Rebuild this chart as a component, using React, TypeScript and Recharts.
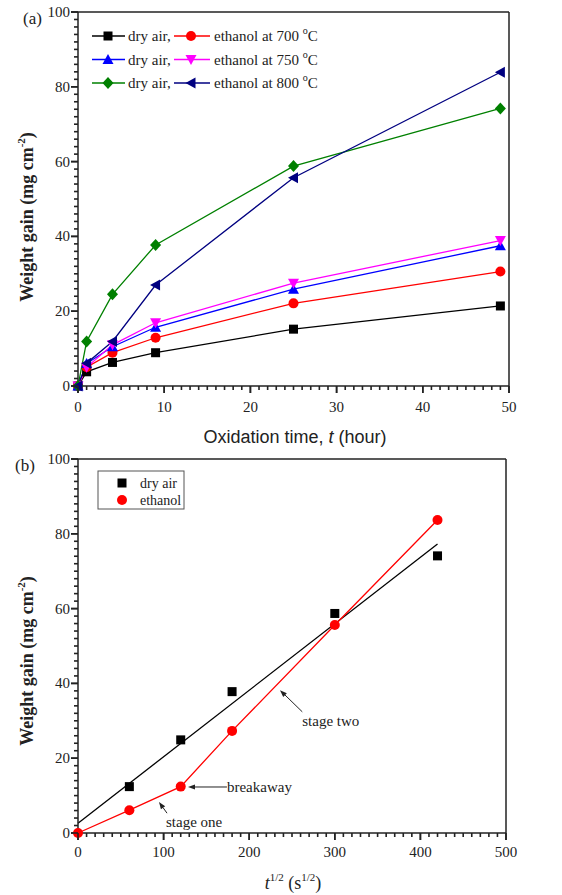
import React from "react";
import {
  LineChart,
  ComposedChart,
  Line,
  Scatter,
  XAxis,
  YAxis,
  ReferenceLine,
} from "recharts";

// ---- panel (a): weight gain vs oxidation time ----
const hours = [0, 1, 4, 9, 25, 49];
const dryAir700 = [0, 3.8, 6.3, 8.9, 15.2, 21.4];
const ethanol700 = [0, 5, 8.9, 12.9, 22.1, 30.6];
const dryAir750 = [0, 6, 10.5, 15.7, 25.9, 37.5];
const ethanol750 = [0, 5, 11, 16.9, 27.5, 38.9];
const dryAir800 = [0, 11.9, 24.5, 37.7, 58.8, 74.2];
const ethanol800 = [0, 6.1, 11.9, 27, 55.7, 83.9];

const xTicksA = [0, 10, 20, 30, 40, 50];
const yTicks = [0, 20, 40, 60, 80, 100];

// ---- panel (b): weight gain vs sqrt(t) at 800 C ----
const sqrtT = [60, 120, 180, 300, 420];
const dryAirB = [12.4, 24.9, 37.8, 58.7, 74.1];
const sqrtTEth = [0, 60, 120, 180, 300, 420];
const ethanolB = [0, 6.1, 12.4, 27.3, 55.6, 83.7];
const dryFitX = [0, 420];
const dryFitY = [2.6, 77.3];
const xTicksB = [0, 100, 200, 300, 400, 500];

// annotations: [tailX, tailY, tipX, tipY]
const notes = [
  { text: "stage two", seg: [262, 32.4, 236, 38.2], dx: 0, dy: 14 },
  { text: "breakaway", seg: [174, 12.3, 128.5, 12.3], dx: 0, dy: 5 },
  { text: "stage one", seg: [104, 5.3, 94.6, 8.3], dx: -1, dy: 14 },
];

const series = [
  { key: "dry700", values: dryAir700, color: "#000000", shape: "square" },
  { key: "eth700", values: ethanol700, color: "#ff0000", shape: "circle" },
  { key: "dry750", values: dryAir750, color: "#0000ff", shape: "up" },
  { key: "eth750", values: ethanol750, color: "#ff00ff", shape: "down" },
  { key: "dry800", values: dryAir800, color: "#008000", shape: "diamond" },
  { key: "eth800", values: ethanol800, color: "#000080", shape: "left" },
];

const rowsA = hours.map((t, i) => {
  const row: any = { t };
  series.forEach((s) => (row[s.key] = s.values[i]));
  return row;
});
const dryRowsB = sqrtT.map((x, i) => ({ x, y: dryAirB[i] }));
const ethRowsB = sqrtTEth.map((x, i) => ({ x, y: ethanolB[i] }));
const fitRowsB = dryFitX.map((x, i) => ({ x, y: dryFitY[i] }));

const range = (step: number, max: number) =>
  Array.from({ length: Math.round(max / step) + 1 }, (_, i) => i * step);

const SERIF = "Liberation Serif, Times New Roman, serif";
const SANS = "Liberation Sans, Arial, sans-serif";
const AXIS = "#222";

function Marker({ shape, cx, cy, fill }: any) {
  if (cx == null || cy == null) return null;
  const s = 4.5;
  switch (shape) {
    case "square":
      return <rect x={cx - s} y={cy - s} width={2 * s} height={2 * s} fill={fill} />;
    case "circle":
      return <circle cx={cx} cy={cy} r={s + 0.5} fill={fill} />;
    case "up":
      return <polygon points={`${cx},${cy - s - 1} ${cx - s - 1},${cy + s} ${cx + s + 1},${cy + s}`} fill={fill} />;
    case "down":
      return <polygon points={`${cx},${cy + s + 1} ${cx - s - 1},${cy - s} ${cx + s + 1},${cy - s}`} fill={fill} />;
    case "diamond":
      return <polygon points={`${cx},${cy - s - 1.5} ${cx + s + 1},${cy} ${cx},${cy + s + 1.5} ${cx - s - 1},${cy}`} fill={fill} />;
    case "left":
      return <polygon points={`${cx - s - 1},${cy} ${cx + s},${cy - s - 1} ${cx + s},${cy + s + 1}`} fill={fill} />;
    default:
      return null;
  }
}

// tick marks: each one a small filled rect placed through the axis scale
const xStub = (len: number) => (p: any) => {
  const yb = Math.max(Number(p.y1), Number(p.y2));
  const x = Number(p.x1);
  if (!isFinite(x) || !isFinite(yb)) return <g />;
  return <rect x={x - 0.8} y={yb} width={1.6} height={len} fill={AXIS} />;
};
const yStub = (len: number) => (p: any) => {
  const xl = Math.min(Number(p.x1), Number(p.x2));
  const y = Number(p.y1);
  if (!isFinite(xl) || !isFinite(y)) return <g />;
  return <rect x={xl - len} y={y - 0.8} width={len} height={1.6} fill={AXIS} />;
};

function tickMarks(prefix: string, xMinor: number[], xMajor: number[], yMinor: number[]) {
  return [
    ...xMinor.map((v) => (
      <ReferenceLine key={`${prefix}x${v}`} x={v} ifOverflow="visible" shape={xStub(xMajor.includes(v) ? 7 : 4)} />
    )),
    ...yMinor.map((v) => (
      <ReferenceLine key={`${prefix}y${v}`} y={v} ifOverflow="visible" shape={yStub(yTicks.includes(v) ? 7 : 4)} />
    )),
  ];
}

const makeXLabel = (labelDy: number) => (props: any) => {
  const { x, y, payload } = props;
  return (
    <g>
      <rect x={x - 0.8} y={y} width={1.6} height={7} fill={AXIS} />
      <text x={x} y={y + labelDy} textAnchor="middle" fontFamily={SERIF} fontSize={15} fill="#222">
        {payload.value}
      </text>
    </g>
  );
};

const YLabelTick = (props: any) => {
  const { x, y, payload } = props;
  return (
    <g>
      <rect x={x - 7} y={y - 0.8} width={7} height={1.6} fill={AXIS} />
      <text x={x - 8} y={y + 5} textAnchor="end" fontFamily={SERIF} fontSize={15} fill="#222">
        {payload.value}
      </text>
    </g>
  );
};

const yLabel = (offset: number) => (props: any) => {
  const vb = props.viewBox || {};
  const cx = (vb.x || 0) + 33;
  const cy = (vb.y || 0) + vb.height / 2 + offset;
  return (
    <text
      x={cx}
      y={cy}
      transform={`rotate(-90, ${cx}, ${cy})`}
      textAnchor="middle"
      fontFamily={SERIF}
      fontWeight="bold"
      fontSize={18}
      fill="#222"
    >
      Weight gain (mg cm
      <tspan fontSize={11} dy={-8}>-2</tspan>
      <tspan dy={8}>)</tspan>
    </text>
  );
};

const arrowShape = (text: string, dx: number, dy: number) => (p: any) => {
  const { x1, y1, x2, y2 } = p;
  if (x1 == null) return null;
  const ang = Math.atan2(y2 - y1, x2 - x1);
  const L = 7;
  const W = 2.6;
  const bx = x2 - L * Math.cos(ang);
  const by = y2 - L * Math.sin(ang);
  const px = -Math.sin(ang) * W;
  const py = Math.cos(ang) * W;
  return (
    <g>
      <line x1={x1} y1={y1} x2={bx} y2={by} stroke="#222" strokeWidth={1} />
      <polygon points={`${x2},${y2} ${bx + px},${by + py} ${bx - px},${by - py}`} fill="#222" />
      <text x={x1 + dx} y={y1 + dy} fontFamily={SERIF} fontSize={15} fill="#222">
        {text}
      </text>
    </g>
  );
};

const legendRows = [
  ["dry700", "eth700", "700"],
  ["dry750", "eth750", "750"],
  ["dry800", "eth800", "800"],
];

function LegendA() {
  const byKey: any = {};
  series.forEach((s) => (byKey[s.key] = s));
  return (
    <svg width={562} height={100} style={{ position: "absolute", left: 0, top: 0, pointerEvents: "none" }}>
      {legendRows.map(([a, b, temp], i) => {
        const y = 36 + i * 23.5;
        const sa = byKey[a];
        const sb = byKey[b];
        return (
          <g key={temp}>
            <line x1={92} x2={125} y1={y} y2={y} stroke={sa.color} strokeWidth={1.3} />
            <Marker shape={sa.shape} cx={108} cy={y} fill={sa.color} />
            <text x={128} y={y + 5} fontFamily={SERIF} fontSize={15} fill="#222">dry air,</text>
            <line x1={174} x2={210} y1={y} y2={y} stroke={sb.color} strokeWidth={1.3} />
            <Marker shape={sb.shape} cx={191} cy={y} fill={sb.color} />
            <text x={214} y={y + 5} fontFamily={SERIF} fontSize={15} fill="#222">
              ethanol at {temp} <tspan fontSize={10} dy={-7}>o</tspan>
              <tspan dy={7}>C</tspan>
            </text>
          </g>
        );
      })}
    </svg>
  );
}

function LegendB() {
  return (
    <svg width={562} height={80} style={{ position: "absolute", left: 0, top: 445, pointerEvents: "none" }}>
      <rect x={98} y={26} width={86} height={38} fill="#fff" stroke="#555" strokeWidth={1} />
      <Marker shape="square" cx={122} cy={38} fill="#000" />
      <text x={140} y={43} fontFamily={SERIF} fontSize={14} fill="#222">dry air</text>
      <Marker shape="circle" cx={122} cy={55} fill="#ff0000" />
      <text x={140} y={60} fontFamily={SERIF} fontSize={14} fill="#222">ethanol</text>
    </svg>
  );
}

const axisCommon = {
  type: "number" as const,
  interval: 0 as const,
  tickSize: 0,
  tickMargin: 0,
  tickLine: false,
  axisLine: { stroke: AXIS, strokeWidth: 1.5 },
};

export default function App() {
  return (
    <div style={{ position: "absolute", left: 0, top: 0, width: 562, height: 895, background: "#fff" }}>
      <div style={{ position: "absolute", left: 0, top: 0 }}>
        <LineChart width={562} height={445} data={rowsA} margin={{ top: 12, right: 53, bottom: 0, left: 0 }}>
          <XAxis
            {...axisCommon}
            dataKey="t"
            domain={[0, 50]}
            ticks={xTicksA}
            tick={makeXLabel(26)}
            height={59}
          />
          <YAxis
            {...axisCommon}
            domain={[0, 100]}
            ticks={yTicks}
            tick={YLabelTick}
            width={78}
            label={{ content: yLabel(18) }}
          />
          {tickMarks("a", range(1, 50), xTicksA, range(2, 100))}
          <ReferenceLine y={100} stroke={AXIS} strokeWidth={1.5} />
          <ReferenceLine x={50} stroke={AXIS} strokeWidth={1.5} />
          {series.map((s) => (
            <Line
              key={s.key}
              dataKey={s.key}
              stroke={s.color}
              strokeWidth={1.3}
              isAnimationActive={false}
              dot={(p: any) => <Marker key={`${s.key}-${p.index}`} shape={s.shape} cx={p.cx} cy={p.cy} fill={s.color} />}
              activeDot={false}
            />
          ))}
        </LineChart>
        <svg width={562} height={30} style={{ position: "absolute", left: 0, top: 420 }}>
          <text x={295} y={23} textAnchor="middle" fontFamily={SANS} fontSize={18} fill="#222">
            Oxidation time, <tspan fontStyle="italic">t</tspan> (hour)
          </text>
        </svg>
        <svg width={60} height={30} style={{ position: "absolute", left: 0, top: 0 }}>
          <text x={23} y={24} fontFamily={SERIF} fontSize={17} fill="#222">(a)</text>
        </svg>
        <LegendA />
      </div>

      <div style={{ position: "absolute", left: 0, top: 445 }}>
        <ComposedChart width={562} height={450} margin={{ top: 14, right: 56, bottom: 0, left: 0 }}>
          <XAxis
            {...axisCommon}
            dataKey="x"
            domain={[0, 500]}
            ticks={xTicksB}
            tick={makeXLabel(24)}
            height={62}
          />
          <YAxis
            {...axisCommon}
            dataKey="y"
            domain={[0, 100]}
            ticks={yTicks}
            tick={YLabelTick}
            width={78}
            label={{ content: yLabel(15) }}
          />
          {tickMarks("b", range(10, 500), xTicksB, range(2, 100))}
          <ReferenceLine y={100} stroke={AXIS} strokeWidth={1.5} />
          <ReferenceLine x={500} stroke={AXIS} strokeWidth={1.5} />
          <Line data={fitRowsB} dataKey="y" stroke="#000" strokeWidth={1.3} dot={false} activeDot={false} isAnimationActive={false} />
          <Line
            data={ethRowsB}
            dataKey="y"
            stroke="#ff0000"
            strokeWidth={1.3}
            isAnimationActive={false}
            activeDot={false}
            dot={(p: any) => <Marker key={`eb-${p.index}`} shape="circle" cx={p.cx} cy={p.cy} fill="#ff0000" />}
          />
          <Scatter
            data={dryRowsB}
            dataKey="y"
            isAnimationActive={false}
            shape={(p: any) => <Marker shape="square" cx={p.cx} cy={p.cy} fill="#000" />}
          />
          {notes.map((n) => (
            <ReferenceLine
              key={n.text}
              segment={[
                { x: n.seg[0], y: n.seg[1] },
                { x: n.seg[2], y: n.seg[3] },
              ]}
              shape={arrowShape(n.text, n.dx, n.dy)}
            />
          ))}
        </ComposedChart>
        <svg width={562} height={40} style={{ position: "absolute", left: 0, top: 410 }}>
          <text x={293} y={34} textAnchor="middle" fontFamily={SERIF} fontSize={18} fill="#222">
            <tspan fontStyle="italic">t</tspan>
            <tspan fontSize={11} dy={-8}>1/2</tspan>
            <tspan dy={8}> (s</tspan>
            <tspan fontSize={11} dy={-8}>1/2</tspan>
            <tspan dy={8}>)</tspan>
          </text>
        </svg>
        <svg width={60} height={40} style={{ position: "absolute", left: 0, top: 0 }}>
          <text x={15} y={26} fontFamily={SERIF} fontSize={17} fill="#222">(b)</text>
        </svg>
      </div>
      <LegendB />
    </div>
  );
}
